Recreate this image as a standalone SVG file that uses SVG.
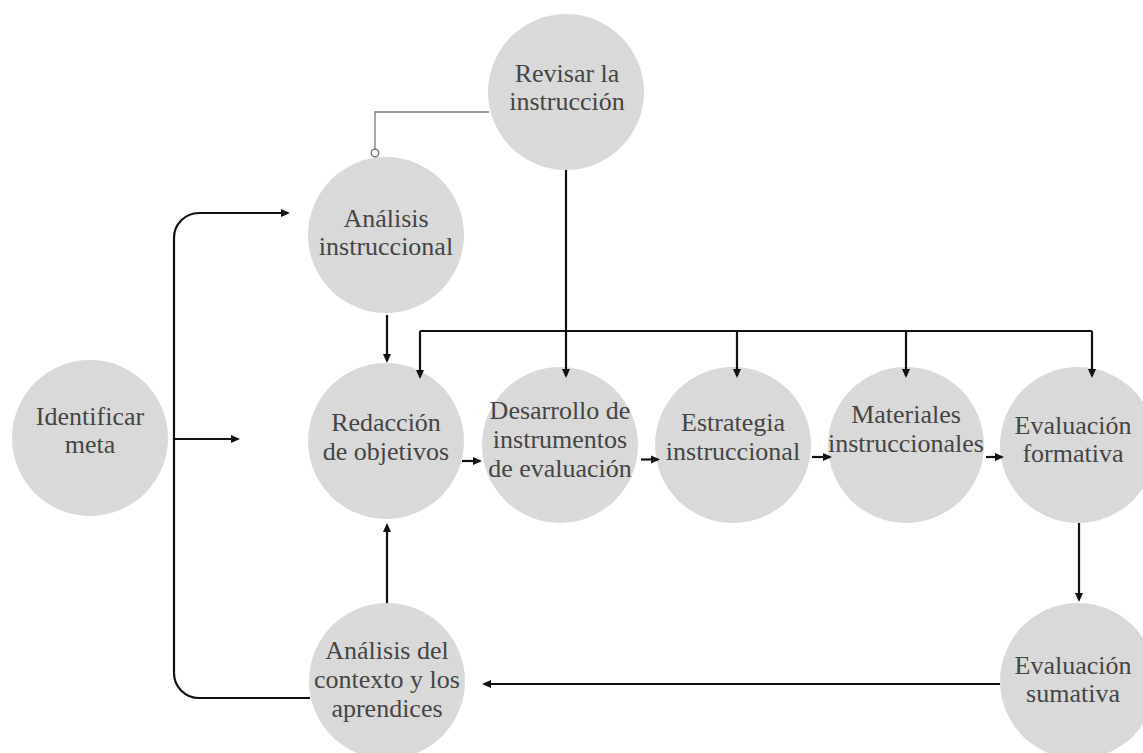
<svg xmlns="http://www.w3.org/2000/svg" width="1143" height="753" viewBox="0 0 1143 753">
  <style>
    .node circle { fill: #d9d9d9; }
    .node text { font-family: "Liberation Serif", "Times New Roman", serif; font-size: 26px; fill: #454545; text-anchor: middle; }
    .link { fill: none; stroke: #111; stroke-width: 2.2; }
    .arr { marker-end: url(#head); }
    .thin { fill: none; stroke: #777; stroke-width: 1.3; }
  </style>
  <defs>
    <marker id="head" markerUnits="userSpaceOnUse" markerWidth="10" markerHeight="10" viewBox="0 0 10 10" refX="7" refY="5" orient="auto-start-reverse">
      <path d="M0,1 L9,5 L0,9 z" fill="#111"/>
    </marker>
  </defs>
  <rect width="1143" height="753" fill="#ffffff"/>

  <g id="identificar-meta" class="node">
    <circle cx="90" cy="438" r="78"/>
    <text x="90" y="425">Identificar</text>
    <text x="90" y="453">meta</text>
  </g>
  <g id="revisar-instruccion" class="node">
    <circle cx="566" cy="92" r="78"/>
    <text x="567" y="82">Revisar la</text>
    <text x="567" y="110">instrucción</text>
  </g>
  <g id="analisis-instruccional" class="node">
    <circle cx="386" cy="235" r="78"/>
    <text x="386" y="227">Análisis</text>
    <text x="386" y="255">instruccional</text>
  </g>
  <g id="redaccion-objetivos" class="node">
    <circle cx="386" cy="441" r="78"/>
    <text x="386" y="431">Redacción</text>
    <text x="386" y="460">de objetivos</text>
  </g>
  <g id="desarrollo-instrumentos" class="node">
    <circle cx="560" cy="445" r="78"/>
    <text x="560" y="419">Desarrollo de</text>
    <text x="560" y="448">instrumentos</text>
    <text x="560" y="477">de evaluación</text>
  </g>
  <g id="estrategia-instruccional" class="node">
    <circle cx="733" cy="445" r="78"/>
    <text x="733" y="431">Estrategia</text>
    <text x="733" y="460">instruccional</text>
  </g>
  <g id="materiales-instruccionales" class="node">
    <circle cx="906" cy="445" r="78"/>
    <text x="906" y="423">Materiales</text>
    <text x="906" y="452">instruccionales</text>
  </g>
  <g id="evaluacion-formativa" class="node">
    <circle cx="1078" cy="445" r="78"/>
    <text x="1073" y="434">Evaluación</text>
    <text x="1073" y="462">formativa</text>
  </g>
  <g id="evaluacion-sumativa" class="node">
    <circle cx="1078" cy="681" r="78"/>
    <text x="1073" y="674">Evaluación</text>
    <text x="1073" y="702">sumativa</text>
  </g>
  <g id="analisis-contexto" class="node">
    <circle cx="387" cy="681" r="78"/>
    <text x="387" y="659">Análisis del</text>
    <text x="387" y="688">contexto y los</text>
    <text x="387" y="717">aprendices</text>
  </g>

  <!-- connectors, drawn over the circles so the arrowheads stay visible -->
  <g id="connectors">
    <!-- review loop: thin line ending in a small open circle -->
    <path class="thin" d="M489,112 H375 V149"/>
    <circle cx="375" cy="153" r="3.8" fill="#ffffff" stroke="#777" stroke-width="1.4"/>
    <!-- review to development -->
    <path class="link arr" d="M566,170 V376"/>
    <!-- distribution bus above the main row -->
    <path class="link" d="M420,331 H1092"/>
    <path class="link arr" d="M420,331 V377"/>
    <path class="link arr" d="M737,331 V376"/>
    <path class="link arr" d="M906,331 V376"/>
    <path class="link arr" d="M1092,331 V376"/>
    <!-- analysis to objectives -->
    <path class="link arr" d="M387,315 V361"/>
    <!-- context to objectives -->
    <path class="link arr" d="M387,603 V525"/>
    <!-- formative to summative -->
    <path class="link arr" d="M1079,523 V600"/>
    <!-- summative back to context -->
    <path class="link arr" d="M1000,684 H484"/>
    <!-- main row -->
    <path class="link arr" d="M462,461 H480"/>
    <path class="link arr" d="M641,459.5 H658"/>
    <path class="link arr" d="M812,457 H830"/>
    <path class="link arr" d="M986,457 H1002"/>
    <!-- left bracket from the goal -->
    <path class="link" d="M310,698 H199 A25,25 0 0 1 174,673 V238 A25,25 0 0 1 199,213 H288" marker-end="url(#head)"/>
    <path class="link arr" d="M174,439 H238"/>
  </g>
</svg>
